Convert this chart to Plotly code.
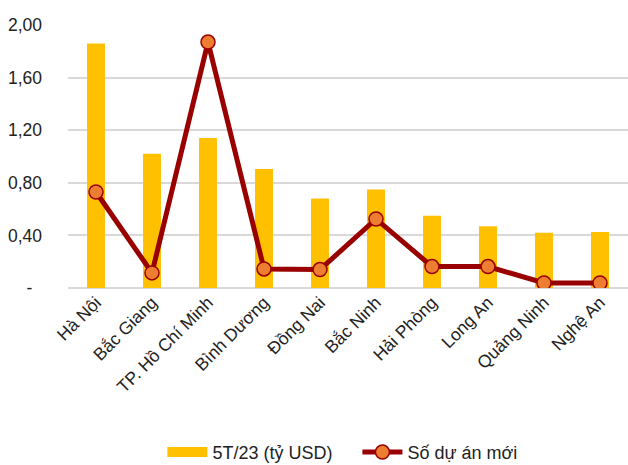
import plotly.graph_objects as go

provinces = ["Hà Nội", "Bắc Giang", "TP. Hồ Chí Minh", "Bình Dương", "Đồng Nai",
             "Bắc Ninh", "Hải Phòng", "Long An", "Quảng Ninh", "Nghệ An"]
capital_5t23 = [1.86, 1.02, 1.14, 0.905, 0.68, 0.75, 0.55, 0.47, 0.42, 0.425]
new_projects = [0.73, 0.115, 1.87, 0.145, 0.14, 0.525, 0.163, 0.163, 0.038, 0.038]
y_ticks = [0, 0.4, 0.8, 1.2, 1.6, 2.0]
y_tick_labels = ["-\u00a0\u00a0", "0,40", "0,80", "1,20", "1,60", "2,00"]

font_family = "Liberation Sans, Arial, sans-serif"
bar_color = "#FFC000"
line_color = "#990000"

fig = go.Figure()
fig.add_trace(go.Bar(
    x=provinces, y=capital_5t23, name="5T/23 (tỷ USD)", showlegend=False,
    marker=dict(color=bar_color, line=dict(width=0)), width=0.32,
))
fig.add_trace(go.Scatter(
    x=provinces, y=new_projects, name="Số dự án mới", mode="lines+markers",
    line=dict(color=line_color, width=5),
    marker=dict(color="#ED7D31", size=14, line=dict(color=line_color, width=1.5)),
))
# wide flat swatch for the bar series in the legend
fig.add_trace(go.Scatter(
    x=[None], y=[None], name="5T/23 (tỷ USD)\u00a0\u00a0\u00a0\u00a0", mode="lines",
    line=dict(color=bar_color, width=10), legendrank=1,
))

fig.update_layout(
    width=628, height=465,
    margin=dict(l=68, r=0, t=25, b=177, autoexpand=False),
    paper_bgcolor="white", plot_bgcolor="white",
    font=dict(family=font_family, size=17.5, color="#222222"),
    showlegend=True,
    legend=dict(orientation="h", x=0.49, xanchor="center", y=-0.625, yanchor="middle",
                font=dict(size=18), itemwidth=40, traceorder="normal"),
)
fig.update_xaxes(range=[-0.5, 9.5], tickangle=-45, showgrid=False, showline=False,
                 ticks="", tickfont=dict(size=17.5), automargin=False)
fig.update_yaxes(range=[0, 2.0], tickvals=y_ticks, ticktext=y_tick_labels,
                 showgrid=True, gridcolor="#D9D9D9", gridwidth=1.5,
                 zeroline=True, zerolinecolor="#D9D9D9", zerolinewidth=1.5,
                 showline=False, ticks="", ticklabelstandoff=25,
                 tickfont=dict(size=17.5), automargin=False)

fig.write_html("out.html")
